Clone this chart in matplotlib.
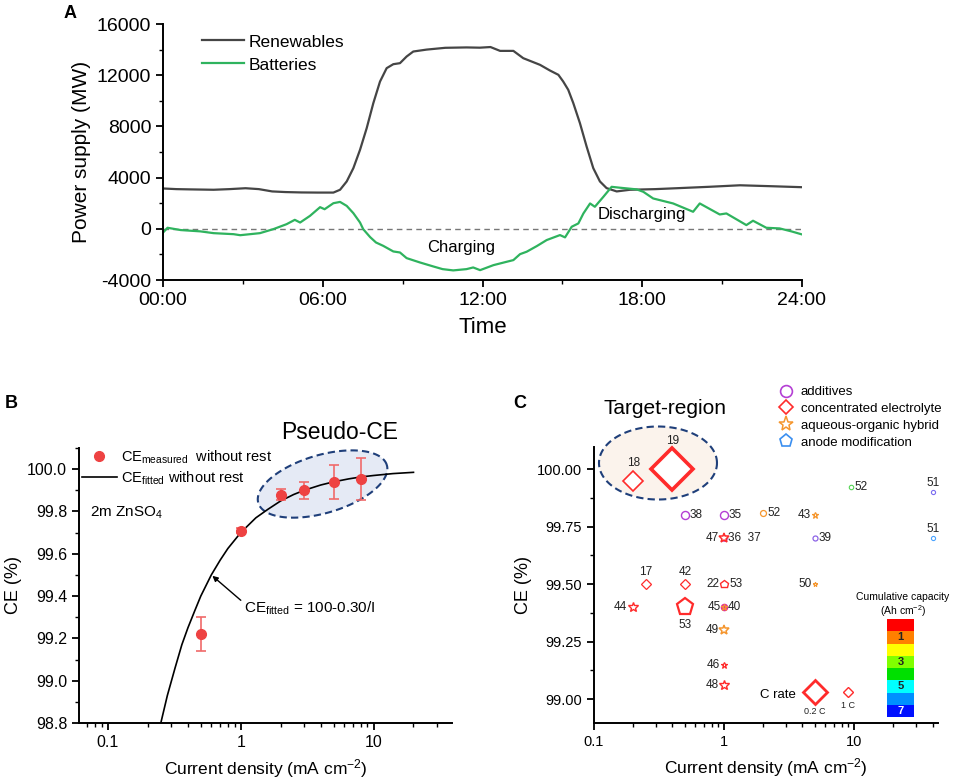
import numpy as np
import matplotlib
matplotlib.use("Agg")
import matplotlib.pyplot as plt
from matplotlib.lines import Line2D
from matplotlib.patches import Polygon, Rectangle
from matplotlib.ticker import MultipleLocator, LogLocator, FixedLocator, NullFormatter

plt.rcParams["font.family"] = ["Liberation Sans", "DejaVu Sans"]
plt.rcParams["mathtext.fontset"] = "custom"
plt.rcParams["mathtext.rm"] = "Liberation Sans"
plt.rcParams["mathtext.it"] = "Liberation Sans:italic"
plt.rcParams["mathtext.bf"] = "Liberation Sans:bold"
plt.rcParams["axes.unicode_minus"] = False

# ---------------- data: panel A ----------------
ren_hour = [0, 0.5, 1.0, 1.9, 2.5, 3.1, 3.6, 4.1, 4.6, 5.2, 5.8, 6.4, 6.65, 6.9, 7.15,
            7.4, 7.65, 7.9, 8.15, 8.4, 8.65, 8.9, 9.15, 9.4, 9.9, 10.6, 11.4, 11.9,
            12.3, 12.66, 13.16, 13.53, 14.16, 14.53, 14.85, 15.03, 15.22, 15.41, 15.66,
            15.91, 16.16, 16.41, 16.66, 17.04, 17.54, 18.5, 19.4, 20.5, 21.67, 22.8, 24.0]
ren_mw = [3150, 3100, 3080, 3050, 3100, 3170, 3100, 2920, 2870, 2840, 2830, 2830, 3050,
          3700, 4740, 6170, 7860, 9820, 11500, 12550, 12860, 12940, 13460, 13850, 14000,
          14140, 14170, 14150, 14200, 13900, 13900, 13330, 12810, 12370, 12030, 11510,
          10860, 9820, 8250, 6430, 4740, 3700, 3180, 2920, 3050, 3100, 3180, 3280, 3400,
          3330, 3250]

bat_hour = [0, 0.17, 0.67, 1.4, 1.9, 2.65, 2.9, 3.64, 4.14, 4.64, 4.95, 5.15, 5.52, 5.9,
            6.07, 6.4, 6.65, 6.9, 7.15, 7.4, 7.52, 7.78, 8.0, 8.27, 8.65, 8.9, 9.15, 9.65,
            10.15, 10.5, 10.9, 11.4, 11.65, 11.91, 12.41, 12.91, 13.16, 13.41, 13.66, 14.04,
            14.41, 14.91, 15.1, 15.35, 15.6, 15.79, 16.04, 16.22, 16.54, 16.85, 17.16, 17.79,
            18.04, 18.41, 19.16, 19.91, 20.16, 20.91, 21.16, 21.91, 22.16, 22.66, 23.16, 23.6,
            24.0]
bat_mw = [-300, 80, -100, -200, -340, -420, -500, -340, -30, 360, 700, 490, 1010, 1690,
          1530, 2000, 2100, 1790, 1220, 490, -30, -650, -1070, -1330, -1770, -1850, -2290,
          -2630, -2940, -3150, -3250, -3150, -3020, -3230, -2840, -2575, -2445, -1980, -1790,
          -1350, -880, -490, -670, 160, 420, 1200, 1980, 1720, 2500, 3280, 3210, 3080, 2890,
          2370, 1980, 1330, 1980, 1120, 1200, 290, 630, 80, 30, -200, -440]

# ---------------- data: panel B ----------------
ce_i = [0.5, 1, 2, 3, 5, 8]
ce_meas = [99.22, 99.71, 99.88, 99.90, 99.94, 99.955]
ce_err = [0.08, 0.012, 0.025, 0.04, 0.08, 0.10]
fit_i = [0.25, 0.28, 0.32, 0.36, 0.40, 0.45, 0.50, 0.60, 0.70, 0.80, 1.0, 1.3, 1.6, 2.0,
         2.5, 3.0, 4.0, 5.0, 6.5, 8.0, 10.0, 14.0, 20.0]
fit_ce = [98.80, 98.93, 99.06, 99.17, 99.25, 99.33, 99.40, 99.50, 99.57, 99.625, 99.70,
          99.77, 99.81, 99.85, 99.88, 99.90, 99.925, 99.94, 99.954, 99.963, 99.97, 99.979,
          99.985]

# ---------------- data: panel C ----------------
ref_x = [0.2, 0.4, 0.5, 1, 2, 5, 9.5, 40, 40, 1, 1, 5, 0.25, 0.5, 1, 5, 0.2, 0.5, 1,
         1, 1, 1, 5, 9]
ref_y = [99.95, 100.0, 99.80, 99.80, 99.81, 99.80, 99.92, 99.90, 99.70, 99.70, 99.70,
         99.70, 99.50, 99.50, 99.50, 99.50, 99.40, 99.40, 99.40, 99.30, 99.15, 99.06,
         99.03, 99.03]
ref_label = ["18", "19", "38", "35", "52", "43", "52", "51", "51", "36  37", "47", "39",
             "17", "42", "22", "50", "44", "53", "45", "49", "46", "48", "0.2 C", "1 C"]
# second labels sitting on the other side of a point
extra_label = {14: "53", 18: "40"}

cat_names = ["additives", "concentrated electrolyte", "aqueous-organic hybrid", "anode modification"]
capacity_ticks = ["", "1", "", "3", "", "5", "", "7"]

# ---------------- styles ----------------
RED = "#ff2b2b"
PURPLE = "#b43fd4"
ORANGE = "#f5962e"
ref_marker = ["D", "D", "o", "o", "o", "*", "o", "o", "o", "o", "*", "o", "D", "D", "p",
              "*", "*", "p", "o", "*", "*", "*", "D", "D"]
ref_color = [RED, RED, PURPLE, PURPLE, ORANGE, ORANGE, "#55d455", "#7b6df0", "#4aa3ff",
             PURPLE, RED, "#8c63e6", RED, RED, RED, ORANGE, RED, RED, "#e0309a", ORANGE,
             RED, RED, RED, RED]
ref_ms = [9.7, 21, 5.8, 5.8, 4.3, 4.8, 3.2, 3.0, 3.0, 4.0, 7.0, 3.6, 5.0, 5.0, 6.2, 3.4,
          7.3, 12.6, 4.0, 7.0, 4.8, 7.0, 12.5, 5.6]
ref_mew = [1.2, 2.6, 1.0, 1.0, 0.9, 0.9, 0.8, 0.8, 0.8, 0.8, 1.1, 0.9, 0.9, 0.9, 1.0,
           0.8, 1.0, 1.6, 1.5, 1.1, 0.9, 1.0, 2.0, 1.0]
ref_side = ["a", "a", "r", "r", "r", "l", "r", "a", "a", "r", "l", "r", "a", "a", "l",
            "l", "l", "b", "l", "l", "l", "l", "b", "b"]
cap_colors = ["#ff0000", "#ff8000", "#ffff00", "#80ff00", "#00e000", "#00ffff",
              "#0090ff", "#0010ff"]

FIG_W, FIG_H = 960, 780
fig = plt.figure(figsize=(9.6, 7.8), dpi=100)


def px_axes(left, top, right, bottom):
    return fig.add_axes([left / FIG_W, 1 - bottom / FIG_H,
                         (right - left) / FIG_W, (bottom - top) / FIG_H])


def dashed_ellipse(ax, cx, cy, a, b, angle, fc):
    # ellipse given in pixels, placed in axes-fraction coordinates
    pos = ax.get_position()
    W, H = pos.width * FIG_W, pos.height * FIG_H
    t = np.linspace(0, 2 * np.pi, 200)
    th = np.radians(angle)
    xs = cx + (a * np.cos(t) * np.cos(th) - b * np.sin(t) * np.sin(th)) / W
    ys = cy + (a * np.cos(t) * np.sin(th) + b * np.sin(t) * np.cos(th)) / H
    poly = Polygon(np.column_stack([xs, ys]), closed=True, transform=ax.transAxes,
                   facecolor=fc, edgecolor="#1f3f7a", linestyle=(0, (3.5, 2)),
                   linewidth=1.5, clip_on=False, zorder=1)
    ax.add_patch(poly)


def style_axes(ax, fs):
    for s in ["top", "right"]:
        ax.spines[s].set_visible(False)
    for s in ["left", "bottom"]:
        ax.spines[s].set_linewidth(1.4)
    ax.tick_params(which="major", direction="out", length=5, width=1.3, labelsize=fs)
    ax.tick_params(which="minor", direction="out", length=3, width=1.0)


# ---------------- panel A ----------------
axA = px_axes(163, 24, 802, 280)
style_axes(axA, 14)
axA.axhline(0, color="#777777", lw=1.0, ls=(0, (4, 3)), zorder=1)
axA.plot(ren_hour, ren_mw, color="#454545", lw=1.6, label="Renewables")
axA.plot(bat_hour, bat_mw, color="#2fb35e", lw=1.6, label="Batteries")
axA.set_xlim(0, 24)
axA.set_ylim(-4000, 16000)
axA.set_xticks([0, 6, 12, 18, 24])
axA.set_xticklabels(["00:00", "06:00", "12:00", "18:00", "24:00"])
axA.xaxis.set_minor_locator(MultipleLocator(3))
axA.yaxis.set_major_locator(MultipleLocator(4000))
axA.yaxis.set_minor_locator(MultipleLocator(2000))
axA.set_xlabel("Time", fontsize=16, labelpad=6)
axA.set_ylabel("Power supply (MW)", fontsize=15, labelpad=4)
axA.legend(loc="upper left", bbox_to_anchor=(0.045, 1.0), frameon=False, fontsize=12.5,
           handlelength=2.4, handletextpad=0.3, labelspacing=0.45, borderaxespad=0.2)
axA.text(11.2, -1480, "Charging", fontsize=12, ha="center", va="center")
axA.text(18.0, 1090, "Discharging", fontsize=12, ha="center", va="center")
fig.text(70 / FIG_W, 1 - 13 / FIG_H, "A", fontsize=13, fontweight="bold", ha="center", va="center")

# ---------------- panel B ----------------
axB = px_axes(79, 448, 452, 723)
style_axes(axB, 11.5)
axB.set_xscale("log")
axB.set_xlim(0.0605, 39)
axB.set_ylim(98.8, 100.1)
dashed_ellipse(axB, 0.653, 0.869, 67, 29, 16.4, "#e5eaf5")
axB.plot(fit_i, fit_ce, color="black", lw=1.2, zorder=3, label=r"CE$_{\rm fitted}$ without rest")
axB.errorbar(ce_i, ce_meas, yerr=ce_err, fmt="none", ecolor="#f06a6a", elinewidth=1.2,
             capsize=3.5, capthick=1.2, zorder=4)
axB.plot(ce_i, ce_meas, "o", color="#ee4242", ms=7, zorder=5, ls="none",
         label=r"CE$_{\rm measured}$  without rest")
axB.set_yticks([98.8, 99.0, 99.2, 99.4, 99.6, 99.8, 100.0])
axB.set_yticklabels(["98.8", "99.0", "99.2", "99.4", "99.6", "99.8", "100.0"])
axB.yaxis.set_minor_locator(MultipleLocator(0.1))
axB.set_xticks([0.1, 1, 10])
axB.set_xticklabels(["0.1", "1", "10"])
axB.xaxis.set_minor_locator(LogLocator(base=10, subs=np.arange(2, 10)))
axB.xaxis.set_minor_formatter(NullFormatter())
axB.set_xlabel(r"Current density (mA cm$^{-2}$)", fontsize=12.5, labelpad=5)
axB.set_ylabel("CE (%)", fontsize=13, labelpad=4)
h, l = axB.get_legend_handles_labels()
axB.legend(h[::-1], l[::-1], loc="upper left", bbox_to_anchor=(0.0, 1.01), frameon=False,
           fontsize=10.5, handlelength=2.4, handletextpad=0.3, labelspacing=0.25,
           borderaxespad=0.0, borderpad=0.2)
axB.text(0.03, 0.764, r"2m ZnSO$_4$", transform=axB.transAxes, fontsize=11, va="center")
axB.text(0.70, 1.058, "Pseudo-CE", transform=axB.transAxes, fontsize=16.5, ha="center",
         va="center")
axB.annotate(r"CE$_{\rm fitted}$ = 100-0.30/I", xy=(0.6, 99.5), xytext=(1.05, 99.34),
             fontsize=11, va="center", ha="left",
             arrowprops=dict(arrowstyle="-|>", color="black", lw=1.0, mutation_scale=8,
                             relpos=(0.0, 0.85), shrinkA=0, shrinkB=1))
fig.text(5 / FIG_W, 1 - 403 / FIG_H, "B", fontsize=13, fontweight="bold", ha="left", va="center")

# ---------------- panel C ----------------
axC = px_axes(594, 447, 938, 723)
style_axes(axC, 10.5)
axC.set_xscale("log")
axC.set_xlim(0.1, 44)
axC.set_ylim(98.896, 100.096)
dashed_ellipse(axC, 0.186, 0.942, 59, 36.5, 0, "#fbf3ec")
axC.set_yticks([99.0, 99.25, 99.5, 99.75, 100.0])
axC.set_yticklabels(["99.00", "99.25", "99.50", "99.75", "100.00"])
axC.yaxis.set_minor_locator(FixedLocator([98.875 + 0.25 * k for k in range(6)]))
axC.set_xticks([0.1, 1, 10])
axC.set_xticklabels(["0.1", "1", "10"])
axC.xaxis.set_minor_locator(LogLocator(base=10, subs=np.arange(2, 10)))
axC.xaxis.set_minor_formatter(NullFormatter())
axC.set_xlabel(r"Current density (mA cm$^{-2}$)", fontsize=12.5, labelpad=5)
axC.set_ylabel("CE (%)", fontsize=13, labelpad=4)

for i in range(len(ref_x)):
    axC.plot(ref_x[i], ref_y[i], marker=ref_marker[i], ms=ref_ms[i], mew=ref_mew[i],
             mec=ref_color[i], mfc="white" if i != 18 else ref_color[i], ls="none",
             zorder=3 if i != 9 else 2, clip_on=False)
    half = ref_ms[i] * (0.72 if ref_marker[i] == "D" else 0.5)
    small = ref_label[i] in ("0.2 C", "1 C")
    fs = 6.5 if small else 8.5
    side = ref_side[i]
    if side == "a":
        off, ha, va = (0, half + 1), "center", "bottom"
    elif side == "b":
        off, ha, va = (0, -half - 2), "center", "top"
    elif side == "l":
        off, ha, va = (-half - 0.5, 0), "right", "center"
    else:
        off, ha, va = (half + 0.5, 0), "left", "center"
    axC.annotate(ref_label[i], (ref_x[i], ref_y[i]), xytext=off, textcoords="offset points",
                 ha=ha, va=va, fontsize=fs, color="#222222")
    if i in extra_label:
        axC.annotate(extra_label[i], (ref_x[i], ref_y[i]), xytext=(half + 0.5, 0),
                     textcoords="offset points", ha="left", va="center", fontsize=8.5,
                     color="#222222")
# star on top of the 45/40 dot
axC.plot(1, 99.40, marker="*", ms=5, mew=0.8, mec=ORANGE, mfc="none", ls="none", zorder=4)
axC.annotate("C rate", (5, 99.03), xytext=(-14, -2), textcoords="offset points",
             ha="right", va="center", fontsize=9.5)
axC.text(0.206, 1.141, "Target-region", transform=axC.transAxes, fontsize=15,
         ha="center", va="center")

handles = [Line2D([], [], marker="o", color=PURPLE, mfc="none", ms=8.5, mew=1.2, ls="none"),
           Line2D([], [], marker="D", color=RED, mfc="none", ms=7, mew=1.2, ls="none"),
           Line2D([], [], marker="*", color=ORANGE, mfc="none", ms=11, mew=1.1, ls="none"),
           Line2D([], [], marker="p", color="#3b8ff0", mfc="none", ms=9.5, mew=1.2, ls="none")]
fig.legend(handles, cat_names, loc="upper left", bbox_to_anchor=(779 / FIG_W, 1 - 386 / FIG_H),
           frameon=False, fontsize=9.5, handlelength=1.0, handletextpad=0.65,
           labelspacing=0.35, borderpad=0, borderaxespad=0)
fig.text(520 / FIG_W, 1 - 403 / FIG_H, "C", fontsize=13, fontweight="bold", ha="center", va="center")

# cumulative capacity colour key
axK = px_axes(887, 619, 914, 717)
n = len(cap_colors)
for k, c in enumerate(cap_colors):
    axK.add_patch(Rectangle((0, n - 1 - k), 1, 1, facecolor=c, edgecolor="none"))
    if capacity_ticks[k]:
        axK.text(0.5, n - 0.5 - k, capacity_ticks[k], ha="center", va="center", fontsize=8,
                 fontweight="bold", color="white" if k == n - 1 else "#222222")
axK.set_xlim(0, 1)
axK.set_ylim(0, n)
axK.axis("off")
fig.text(903 / FIG_W, 1 - 597 / FIG_H, "Cumulative capacity", fontsize=7.5, ha="center", va="center")
fig.text(903 / FIG_W, 1 - 611 / FIG_H, r"(Ah cm$^{-2}$)", fontsize=7.5, ha="center", va="center")

fig.savefig("out.png", dpi=100, facecolor="white")
